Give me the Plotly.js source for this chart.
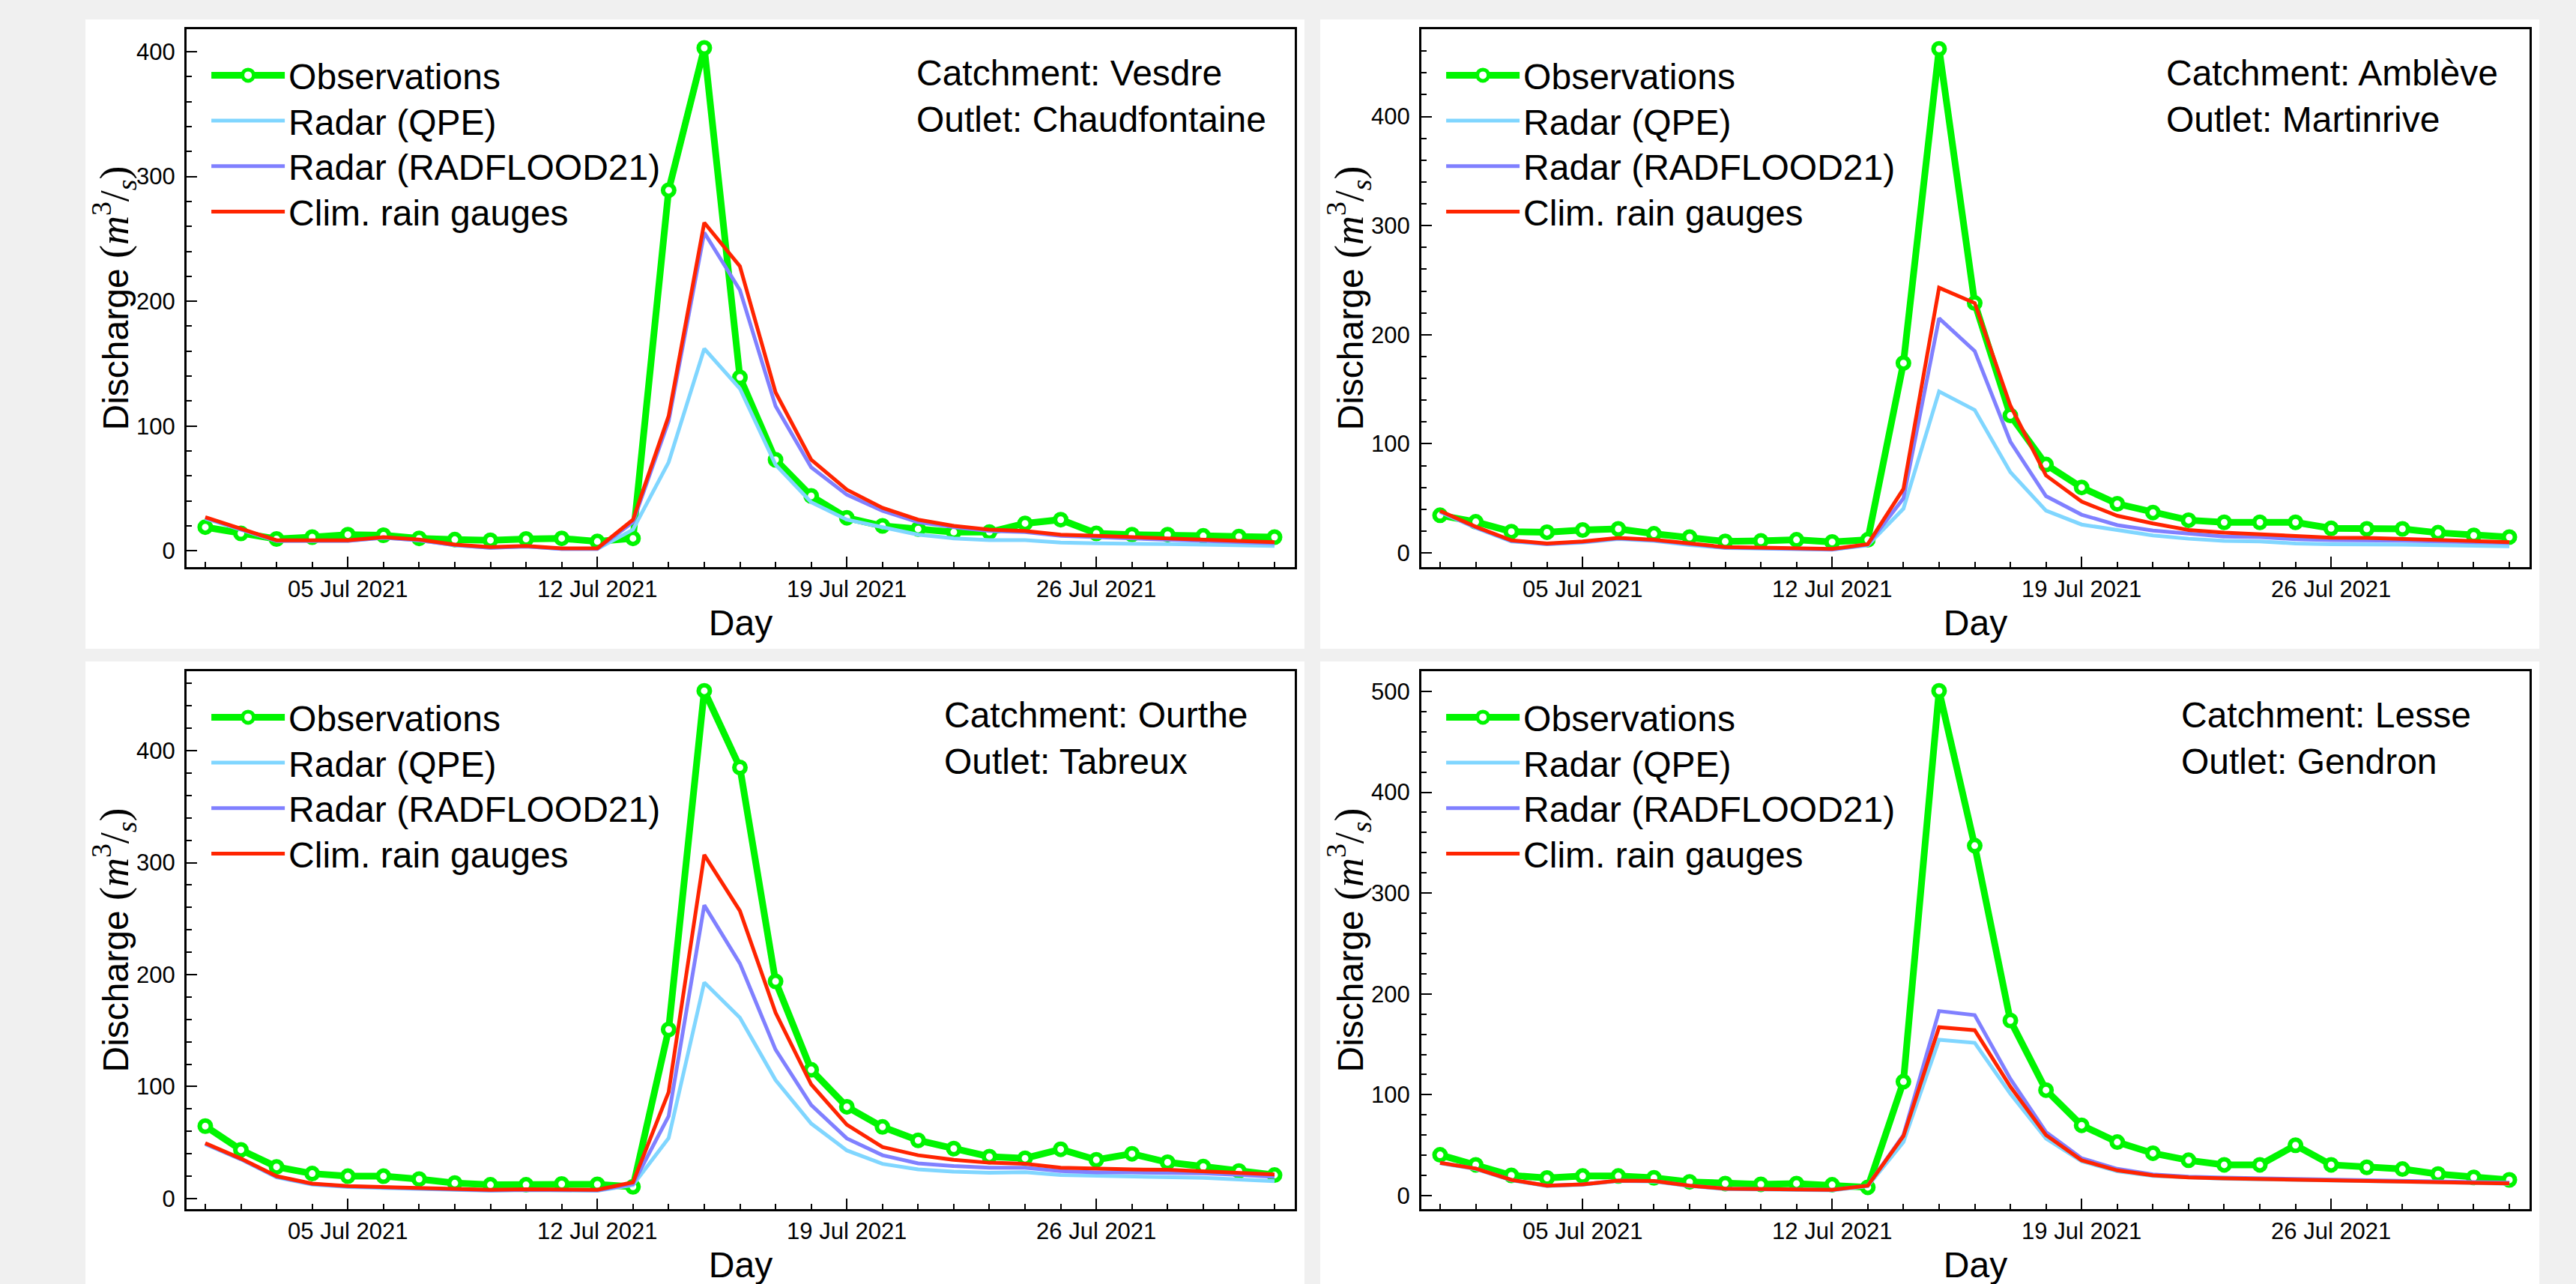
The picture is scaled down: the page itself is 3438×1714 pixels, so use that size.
<!DOCTYPE html>
<html>
<head>
<meta charset="utf-8">
<script src="https://cdn.plot.ly/plotly-3.0.1.min.js"></script>
<style>
html, body { margin:0; padding:0; background:#f0f0f0; width:3438px; height:1714px; overflow:hidden; }
.panel { position:absolute; width:1627px; height:840px; background:#ffffff; }
</style>
</head>
<body>
<div id="p1" class="panel" style="left:114px; top:26px;"></div>
<div id="p2" class="panel" style="left:1762px; top:26px;"></div>
<div id="p3" class="panel" style="left:114px; top:883px;"></div>
<div id="p4" class="panel" style="left:1762px; top:883px;"></div>
<script>
// ---- Data ----
const days = ['2021-07-01','2021-07-02','2021-07-03','2021-07-04','2021-07-05','2021-07-06','2021-07-07','2021-07-08',
  '2021-07-09','2021-07-10','2021-07-11','2021-07-12','2021-07-13','2021-07-14','2021-07-15','2021-07-16',
  '2021-07-17','2021-07-18','2021-07-19','2021-07-20','2021-07-21','2021-07-22','2021-07-23','2021-07-24',
  '2021-07-25','2021-07-26','2021-07-27','2021-07-28','2021-07-29','2021-07-30','2021-07-31'];

const seriesNames = ['Observations', 'Radar (QPE)', 'Radar (RADFLOOD21)', 'Clim. rain gauges'];

// Vesdre at Chaudfontaine
const vesdreObs  = [19, 14, 9.5, 11, 13, 12.5, 10, 9, 8.5, 9.5, 10, 7.5, 10, 289, 403, 139, 73, 44, 26.5, 20, 17.5, 15, 15, 22, 25, 14, 13, 13, 12, 11.5, 11];
const vesdreQPE  = [26, 17, 8, 8, 8, 10.5, 8.5, 4.5, 2.5, 3.5, 1.5, 1.5, 17, 71, 162, 130, 69, 39, 25, 19, 13, 10, 8.6, 8.6, 6.6, 6, 6, 5.5, 5, 4.5, 4];
const vesdreRad  = [26.5, 17, 8, 8, 8, 10.5, 8.5, 4.5, 2.5, 3.5, 1.5, 1.5, 23, 104, 255, 209, 116, 67, 45, 32, 23, 19, 16, 15, 12, 11, 10, 9, 8, 7, 6];
const vesdreClim = [27, 17.5, 8.5, 8.5, 8.5, 11, 9, 5, 3, 4, 2, 2, 25, 108, 263, 228, 127, 73, 49, 34.5, 25, 20, 17, 16, 13, 12, 11, 10, 9, 8, 7];

// Amblève at Martinrive
const ambleveObs  = [34.5, 28.5, 19.5, 19, 21, 22, 17.5, 14.5, 10.5, 11, 12, 10, 12, 174, 462, 229, 126, 81, 60, 45, 37, 30, 28, 28, 28, 22.5, 22, 22, 18.5, 16, 14.5];
const ambleveQPE  = [37.5, 23, 10.5, 8, 9.5, 12.8, 11, 7.3, 4.5, 4, 3.3, 3, 7, 40.5, 148, 131, 74, 38.7, 26, 20.6, 16, 13, 11, 10.5, 8.7, 8, 8, 7.6, 7.1, 6.4, 6];
const ambleveRad  = [38, 23.5, 11, 8.2, 10, 13.3, 11.5, 7.8, 4.8, 4.3, 3.6, 3.2, 7.5, 50, 215, 185, 102, 52, 35, 25.5, 20.5, 17.5, 15, 14.5, 12.6, 11.7, 11.7, 11.2, 10.5, 9.9, 9.2];
const ambleveClim = [38.5, 24, 11.5, 8.7, 10.5, 13.8, 12, 8.3, 5.3, 4.8, 4.1, 3.7, 8, 58.7, 243, 229, 135, 71, 47, 34, 27, 21, 18.6, 17.2, 15, 14, 13.8, 13, 12, 11.2, 9.9];

// Ourthe at Tabreux
const ourtheObs  = [64.7, 43.5, 28.3, 22.3, 20, 20, 17.4, 13.8, 12.3, 12.3, 13, 12.7, 10.5, 151, 453.5, 385, 194, 115, 82, 64, 52, 44.6, 37.5, 36, 44, 34.6, 40, 32.4, 28.6, 24.6, 21];
const ourtheQPE  = [48.5, 35, 19, 12.5, 10.3, 9.6, 9.2, 8.4, 7, 7.5, 7, 7, 12, 54, 193, 161.6, 105.8, 67, 43, 31, 26, 24, 23, 23.5, 21, 20.5, 20, 19.5, 18.5, 17, 15.5];
const ourtheRad  = [49, 35.2, 19.5, 13, 10.8, 10.1, 9.6, 8.8, 7.4, 7.9, 7.4, 7.4, 13, 73.6, 262, 210, 133, 83.5, 53.7, 38.7, 31.4, 29, 27.5, 27.5, 24.6, 23.4, 23.4, 23, 22.5, 21.2, 19.4];
const ourtheClim = [49.5, 35.7, 20, 13.4, 11.2, 10.5, 10, 9.2, 7.8, 8.3, 7.8, 7.8, 14.5, 95, 307, 257, 166, 102, 66, 46, 38.7, 34.6, 32, 31, 27.5, 26.6, 26, 25.7, 24.6, 23, 21.6];

// Lesse at Gendron
const lesseObs  = [40.4, 30.5, 20, 17.4, 19.4, 19.4, 17.6, 13.6, 11.9, 11.2, 11.9, 10.7, 8.2, 113, 500.5, 347, 173.6, 104.6, 69.7, 53, 42, 35, 30.5, 30.5, 49.9, 30.5, 28, 26.3, 21.3, 18, 15.6];
const lesseQPE  = [32, 26.3, 15.1, 9.4, 10.7, 14.4, 13.9, 9.4, 6.4, 5.7, 5.2, 5.2, 9.4, 53, 154.5, 151.5, 101, 56.6, 34, 24, 19.4, 17.7, 16.7, 16.1, 15.3, 14.7, 14.3, 13.7, 13.1, 12.4, 11.7];
const lesseRad  = [32.5, 26.8, 15.6, 9.9, 11.2, 14.9, 14.4, 9.9, 6.9, 6.2, 5.7, 5.7, 9.9, 60, 183, 179, 115.7, 63, 37, 26.5, 21, 18.8, 17.8, 17.2, 16.4, 15.8, 15.4, 14.8, 14.2, 13.5, 12.8];
const lesseClim = [32.5, 26.8, 15.6, 9.9, 11.2, 14.9, 14.4, 9.9, 6.9, 6.2, 5.7, 5.7, 9.9, 59, 167, 164, 108, 60, 35, 25, 20, 18, 17, 16.4, 15.6, 15, 14.6, 14, 13.4, 12.7, 12];

const catchments = ['Vesdre', 'Amblève', 'Ourthe', 'Lesse'];
const outlets = ['Chaudfontaine', 'Martinrive', 'Tabreux', 'Gendron'];

// ---- Styles ----
const FONT = 'Liberation Sans, Arial, Helvetica, sans-serif';
const colors = ['#00f500', '#80d6ff', '#8080ff', '#ff2400'];
const legendIds = ['legend', 'legend2', 'legend3', 'legend4'];
const legendY = [0.967, 0.8825, 0.798, 0.7135];

const panels = [
  { id:'p1', data:[vesdreObs, vesdreQPE, vesdreRad, vesdreClim], yRange:[-13, 418], annX:0.657, c:0 },
  { id:'p2', data:[ambleveObs, ambleveQPE, ambleveRad, ambleveClim], yRange:[-13, 480], annX:0.671, c:1 },
  { id:'p3', data:[ourtheObs, ourtheQPE, ourtheRad, ourtheClim], yRange:[-9.4, 471], annX:0.682, c:2 },
  { id:'p4', data:[lesseObs, lesseQPE, lesseRad, lesseClim], yRange:[-13.4, 520], annX:0.684, c:3 }
];

panels.forEach(p => {
  const traces = p.data.map((vals, i) => {
    const t = {
      x: days, y: vals, name: seriesNames[i], type: 'scatter',
      mode: i === 0 ? 'lines+markers' : 'lines',
      legend: legendIds[i],
      line: { color: colors[i], width: i === 0 ? 9 : 5 }
    };
    if (i === 0) {
      t.marker = { symbol: 'circle', size: 15, color: '#ffffff', line: { color: colors[0], width: 6 } };
    }
    return t;
  });

  const layout = {
    width: 1627, height: 840,
    margin: { l: 135, r: 13, t: 13, b: 109, pad: 0 },
    paper_bgcolor: '#ffffff', plot_bgcolor: '#ffffff',
    font: { family: FONT, color: '#000000' },
    showlegend: true,
    xaxis: {
      type: 'date',
      range: ['2021-06-30 11:24', '2021-07-31 13:36'],
      tickmode: 'linear', tick0: '2021-07-05', dtick: 7 * 86400000,
      tickformat: '%d %b %Y',
      ticks: 'inside', ticklen: 14, tickwidth: 2, tickcolor: '#000',
      minor: { tickmode: 'linear', tick0: '2021-07-01', dtick: 86400000, ticks: 'inside', ticklen: 7, tickwidth: 1.5, tickcolor: '#000', showgrid: false },
      showline: true, linecolor: '#000', linewidth: 3, mirror: true,
      showgrid: false, zeroline: false,
      tickfont: { size: 31, family: FONT, color: '#000' },
      title: { text: 'Day', font: { size: 48, family: FONT, color: '#000' }, standoff: 12 },
      automargin: false, fixedrange: true
    },
    yaxis: {
      range: p.yRange,
      tickmode: 'linear', tick0: 0, dtick: 100,
      ticks: 'inside', ticklen: 14, tickwidth: 2, tickcolor: '#000',
      minor: { tickmode: 'linear', tick0: 0, dtick: 20, ticks: 'inside', ticklen: 7, tickwidth: 1.5, tickcolor: '#000', showgrid: false },
      showline: true, linecolor: '#000', linewidth: 3, mirror: true,
      showgrid: false, zeroline: false,
      ticklabelstandoff: 6,
      tickfont: { size: 31, family: FONT, color: '#000' },
      title: {
        text: 'Discharge <span style="font-family:Liberation Serif, serif; font-size:54px">(<i>m</i><sup>3</sup>/<sub><i>s</i></sub>)</span>',
        font: { size: 48, family: FONT, color: '#000' }, standoff: 0
      },
      automargin: false, fixedrange: true
    },
    annotations: [{
      xref: 'paper', yref: 'paper', x: p.annX, y: 0.958, xanchor: 'left', yanchor: 'top',
      align: 'left', showarrow: false,
      text: 'Catchment: ' + catchments[p.c] + '<br>Outlet: ' + outlets[p.c],
      font: { size: 48, family: FONT, color: '#000' }
    }]
  };

  legendIds.forEach((lid, i) => {
    layout[lid] = {
      x: 0.019, y: legendY[i], xanchor: 'left', yanchor: 'top',
      bgcolor: 'rgba(0,0,0,0)', borderwidth: 0,
      font: { size: 48, family: FONT, color: '#000' },
      itemwidth: 98
    };
  });

  Plotly.newPlot(p.id, traces, layout, { displayModeBar: false, responsive: false });
});
</script>
</body>
</html>
